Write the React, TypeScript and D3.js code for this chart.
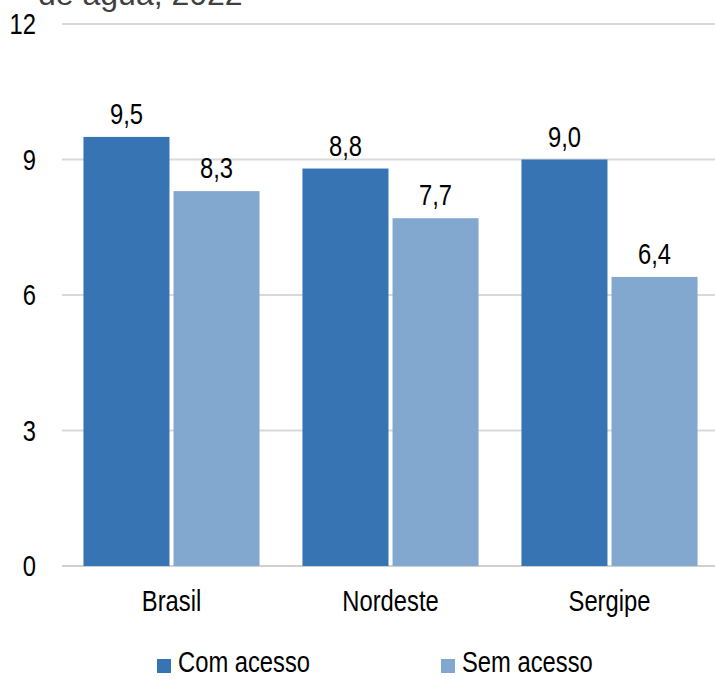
import React from "react";
import * as d3 from "d3";

const categories = ["Brasil", "Nordeste", "Sergipe"];
const seriesNames = ["Com acesso", "Sem acesso"];
const comAcesso = [9.5, 8.8, 9.0];
const semAcesso = [8.3, 7.7, 6.4];
const yTicks = [0, 3, 6, 9, 12];
const colors = ["#3674b4", "#83a8d0"];

const W = 715;
const H = 679;
const FONT = "'Liberation Sans', Arial, sans-serif";
const SX = 0.82;
const FS = 29;

function NText({ x, y, anchor = "start", children }: { x: number; y: number; anchor?: string; children: React.ReactNode }) {
  return (
    <text transform={`translate(${x},${y}) scale(${SX},1)`} textAnchor={anchor} fontFamily={FONT} fontSize={FS} fill="#000">
      {children}
    </text>
  );
}

export default function App() {
  const x = d3.scaleBand<string>().domain(categories).range([62, 719]).paddingInner(0.196).paddingOuter(0.098);
  const x1 = d3.scaleBand<string>().domain(seriesNames).range([0, x.bandwidth()]).paddingInner(0.045);
  const y = d3.scaleLinear().domain([0, 12]).range([566, 24]);
  const series = [comAcesso, semAcesso];
  const fmt = (v: number) => v.toFixed(1).replace(".", ",");

  return (
    <svg width={W} height={H} style={{ position: "absolute", left: 0, top: 0, background: "#fff" }}>
      <text x={38} y={5} fontFamily="'Liberation Sans', Arial, sans-serif" fontSize={32} fill="#404040">de água, 2022</text>
      {yTicks.map((t) => (
        <g key={t}>
          <line x1={62} x2={715} y1={y(t)} y2={y(t)} stroke={t === 0 ? "#d0d0d0" : "#d9d9d9"} strokeWidth={2} />
          <NText x={36} y={y(t) + 10} anchor="end">{t}</NText>
        </g>
      ))}
      {categories.map((c, i) => (
        <g key={c} transform={`translate(${x(c)},0)`}>
          {series.map((s, j) => {
            const bx = x1(seriesNames[j])!;
            return (
              <g key={j}>
                <rect x={bx} y={y(s[i])} width={x1.bandwidth()} height={y(0) - y(s[i])} fill={colors[j]} />
                <NText x={bx + x1.bandwidth() / 2} y={y(s[i]) - 13} anchor="middle">{fmt(s[i])}</NText>
              </g>
            );
          })}
          <NText x={x.bandwidth() / 2} y={611} anchor="middle">{c}</NText>
        </g>
      ))}
      {seriesNames.map((n, j) => {
        const lx = j === 0 ? 157 : 441;
        return (
          <g key={n}>
            <rect x={lx} y={659} width={14} height={14} fill={colors[j]} />
            <NText x={lx + 21} y={672}>{n}</NText>
          </g>
        );
      })}
    </svg>
  );
}
